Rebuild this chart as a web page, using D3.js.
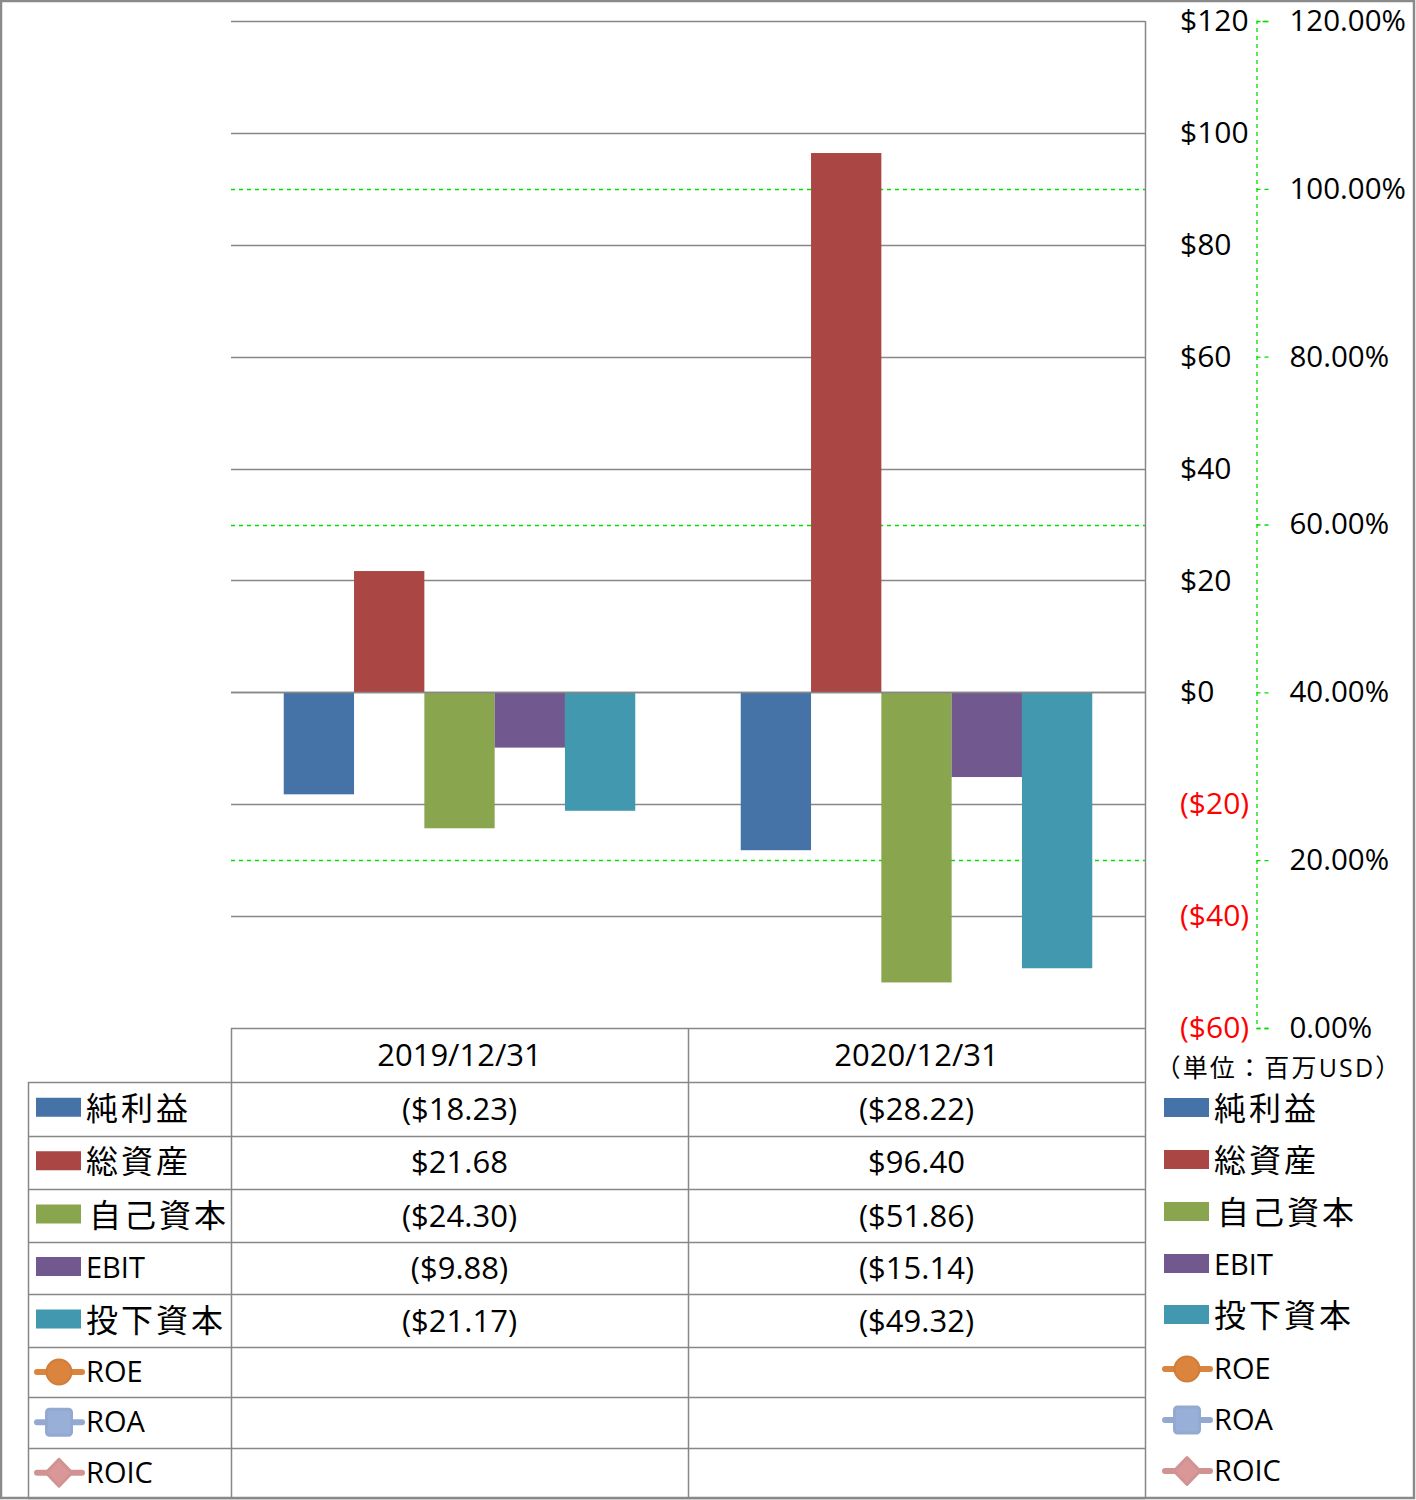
<!DOCTYPE html>
<html><head><meta charset="utf-8">
<script src="https://cdn.jsdelivr.net/npm/d3@7"></script>
<style>
html,body{margin:0;padding:0;background:#fff;}
text{font-family:"Open Sans","Noto Sans CJK JP",sans-serif;}
</style></head>
<body>
<svg id="chart" width="1416" height="1500"></svg>
<script>
// ---------- data ----------
const categories = ["2019/12/31", "2020/12/31"];
const barSeries = ["純利益", "総資産", "自己資本", "EBIT", "投下資本"];
const netIncome = [-18.23, -28.22];
const totalAssets = [21.68, 96.40];
const equity = [-24.30, -51.86];
const ebit = [-9.88, -15.14];
const investedCapital = [-21.17, -49.32];
const lineSeries = ["ROE", "ROA", "ROIC"];
const roe = [null, null];
const roa = [null, null];
const roic = [null, null];
const dollarTicks = [-60, -40, -20, 0, 20, 40, 60, 80, 100, 120];
const pctTicks = [0, 0.2, 0.4, 0.6, 0.8, 1.0, 1.2];
const unitLabel = "（単位：百万USD）";

// ---------- styles / layout ----------
const barColors = ["#4572A7", "#AA4643", "#89A54E", "#71588F", "#4198AF"];
const lineColors = ["#DB843D", "#93A9CF", "#D19392"];
const markerShapes = ["circle", "square", "diamond"];
const barValues = [netIncome, totalAssets, equity, ebit, investedCapital];
const lineValues = [roe, roa, roic];
const gridColor = "#878787";
const green = "#00E000";

const plot = {left: 231, right: 1145, top: 21, bottom: 1028};
const tableLeft = 28;
const rowEdges = [1082, 1135.5, 1189, 1242, 1294, 1347, 1397, 1447.5, 1498];
const headerTop = 1028;

const svg = d3.select("#chart");
const fmtMoney = v => v < 0 ? `($${d3.format(",.2f")(-v)})` : `$${d3.format(",.2f")(v)}`;
const fmtTick = v => v < 0 ? `($${-v})` : `$${v}`;

// scales
const x = d3.scaleBand().domain(categories).range([plot.left, plot.right]).padding(0);
const xs = d3.scaleBand().domain(barSeries).range([0, x.bandwidth()]).paddingInner(0).paddingOuter(0.75);
const y = d3.scaleLinear().domain([-60, 120]).range([plot.bottom, plot.top]);
const y2 = d3.scaleLinear().domain([0, 1.2]).range([plot.bottom, plot.top]);

// outer frame
svg.append("rect").attr("x", 1).attr("y", 1).attr("width", 1413).attr("height", 1497)
  .attr("fill", "#fff").attr("stroke", "#8a8a8a").attr("stroke-width", 2.5);

// green dashed secondary gridlines (hidden where a primary gridline lies on top)
const grayYs = dollarTicks.map(d => y(d));
const greenTicks = pctTicks.filter(p => !grayYs.some(g => Math.abs(g - y2(p)) < 1.5));
svg.append("g").selectAll("line").data(greenTicks).join("line")
  .attr("x1", plot.left).attr("x2", plot.right)
  .attr("y1", d => Math.round(y2(d)) + 0.5).attr("y2", d => Math.round(y2(d)) + 0.5)
  .attr("stroke", green).attr("stroke-width", 1.3).attr("stroke-dasharray", "4,4");

// gray primary gridlines
svg.append("g").selectAll("line").data(dollarTicks.filter(d => d > -60)).join("line")
  .attr("x1", plot.left).attr("x2", plot.right)
  .attr("y1", d => Math.round(y(d)) + 0.5).attr("y2", d => Math.round(y(d)) + 0.5)
  .attr("stroke", gridColor).attr("stroke-width", 1.5);

// bars
const barData = [];
barSeries.forEach((s, i) => categories.forEach((c, j) => barData.push({s, c, v: barValues[i][j], i})));
svg.append("g").selectAll("rect").data(barData).join("rect")
  .attr("x", d => x(d.c) + xs(d.s))
  .attr("width", xs.bandwidth())
  .attr("y", d => y(Math.max(0, d.v)))
  .attr("height", d => Math.abs(y(d.v) - y(0)))
  .attr("fill", d => barColors[d.i]);

// zero line on top
svg.append("line").attr("x1", plot.left).attr("x2", plot.right)
  .attr("y1", Math.round(y(0)) + 0.5).attr("y2", Math.round(y(0)) + 0.5)
  .attr("stroke", gridColor).attr("stroke-width", 1.5);

// plot right border
svg.append("line").attr("x1", plot.right + 0.5).attr("x2", plot.right + 0.5)
  .attr("y1", plot.top).attr("y2", rowEdges[rowEdges.length - 1])
  .attr("stroke", gridColor).attr("stroke-width", 1.5);

// primary axis (labels only)
const yAxis = d3.axisRight(y).tickValues(dollarTicks).tickSize(0).tickPadding(35).tickFormat(fmtTick);
const gy = svg.append("g").attr("transform", `translate(${plot.right},0)`).call(yAxis);
gy.select(".domain").remove();
gy.selectAll("text").attr("font-size", 30).attr("font-family", "Open Sans")
  .attr("fill", d => d < 0 ? "#FF0000" : "#000");

// secondary axis
const y2Axis = d3.axisRight(y2).tickValues(pctTicks).tickSize(12).tickPadding(21).tickFormat(d3.format(".2%"));
const gy2 = svg.append("g").attr("transform", `translate(1256.5,0)`).call(y2Axis);
gy2.select(".domain").attr("stroke", green).attr("stroke-width", 1.3).attr("stroke-dasharray", "4,4");
gy2.selectAll(".tick line").attr("stroke", green).attr("stroke-width", 1.3).attr("stroke-dasharray", "4,4");
gy2.selectAll("text").attr("font-size", 29.5).attr("font-family", "Open Sans").attr("fill", "#000");

// unit label
svg.append("text").attr("x", 1279).attr("y", 1077).attr("text-anchor", "middle")
  .attr("font-size", 25).attr("letter-spacing", 2.2).attr("font-family", "Noto Sans CJK JP").text(unitLabel);

// ---------- data table ----------
const tg = svg.append("g");
const lineAttr = sel => sel.attr("stroke", gridColor).attr("stroke-width", 1.5);
tg.append("line").attr("x1", plot.left).attr("x2", plot.right).attr("y1", headerTop + 0.5).attr("y2", headerTop + 0.5).call(lineAttr);
tg.append("line").attr("x1", plot.left + 0.5).attr("x2", plot.left + 0.5).attr("y1", headerTop).attr("y2", rowEdges[rowEdges.length - 1]).call(lineAttr);
tg.append("line").attr("x1", x(categories[1]) + 0.5).attr("x2", x(categories[1]) + 0.5).attr("y1", headerTop).attr("y2", rowEdges[rowEdges.length - 1]).call(lineAttr);
tg.append("line").attr("x1", tableLeft + 0.5).attr("x2", tableLeft + 0.5).attr("y1", rowEdges[0]).attr("y2", rowEdges[rowEdges.length - 1]).call(lineAttr);
tg.selectAll("line.row").data(rowEdges).join("line").attr("class", "row")
  .attr("x1", tableLeft).attr("x2", plot.right)
  .attr("y1", d => Math.round(d) + 0.5).attr("y2", d => Math.round(d) + 0.5).call(lineAttr);

// header labels
tg.selectAll("text.hdr").data(categories).join("text").attr("class", "hdr")
  .attr("x", d => x(d) + x.bandwidth() / 2).attr("y", (headerTop + rowEdges[0]) / 2 + 11)
  .attr("text-anchor", "middle").attr("font-size", 31).attr("font-family", "Open Sans").text(d => d);

const allSeries = barSeries.concat(lineSeries);
const rowCenter = i => (rowEdges[i] + rowEdges[i + 1]) / 2;
const isCJK = s => /[^\x00-\x7F]/.test(s);

// values
barSeries.forEach((s, i) => {
  tg.selectAll(null).data(categories).join("text")
    .attr("x", d => x(d) + x.bandwidth() / 2).attr("y", rowCenter(i) + 11)
    .attr("text-anchor", "middle").attr("font-size", 31).attr("font-family", "Open Sans")
    .text((d, j) => fmtMoney(barValues[i][j]));
});

function drawLegendItem(g, cx0, textX, i, cy) {
  const s = allSeries[i];
  if (i < barSeries.length) {
    g.append("rect").attr("x", cx0).attr("y", cy - 11).attr("width", 45).attr("height", 19).attr("fill", barColors[i]);
  } else {
    const k = i - barSeries.length;
    const c = lineColors[k];
    const mx = cx0 + 23;
    g.append("line").attr("x1", cx0 + 1).attr("x2", cx0 + 46).attr("y1", cy).attr("y2", cy)
      .attr("stroke", c).attr("stroke-width", 6).attr("stroke-linecap", "round");
    const shape = markerShapes[k];
    if (shape === "circle") {
      g.append("circle").attr("cx", mx).attr("cy", cy).attr("r", 12.5).attr("fill", c).attr("stroke", d3.color(c).darker(0.15)).attr("stroke-width", 2);
    } else if (shape === "square") {
      g.append("rect").attr("x", mx - 12.5).attr("y", cy - 13).attr("width", 25).attr("height", 26).attr("rx", 3)
        .attr("fill", d3.color(c).brighter(0.1)).attr("stroke", c).attr("stroke-width", 3);
    } else {
      g.append("path").attr("d", `M${mx},${cy - 13.5}L${mx + 13},${cy}L${mx},${cy + 13.5}L${mx - 13},${cy}Z`)
        .attr("fill", d3.color(c).brighter(0.1)).attr("stroke", c).attr("stroke-width", 3).attr("stroke-linejoin", "round");
    }
  }
  const cjk = isCJK(s);
  g.append("text").attr("x", textX).attr("y", cy + (cjk ? 11 : 10))
    .attr("font-size", cjk ? 32 : 29).attr("letter-spacing", cjk ? 3 : 0)
    .attr("font-family", cjk ? "Noto Sans CJK JP" : "Open Sans").text(s);
}

allSeries.forEach((s, i) => {
  drawLegendItem(tg, 36, i === 2 ? 89 : 86, i, rowCenter(i));
});

// ---------- right legend ----------
const legendRowsY = [1109, 1161, 1213, 1265, 1316, 1369, 1420, 1471];
const lg = svg.append("g");
allSeries.forEach((s, i) => {
  drawLegendItem(lg, 1164, i === 2 ? 1217 : 1214, i, legendRowsY[i]);
});
</script>
</body></html>
